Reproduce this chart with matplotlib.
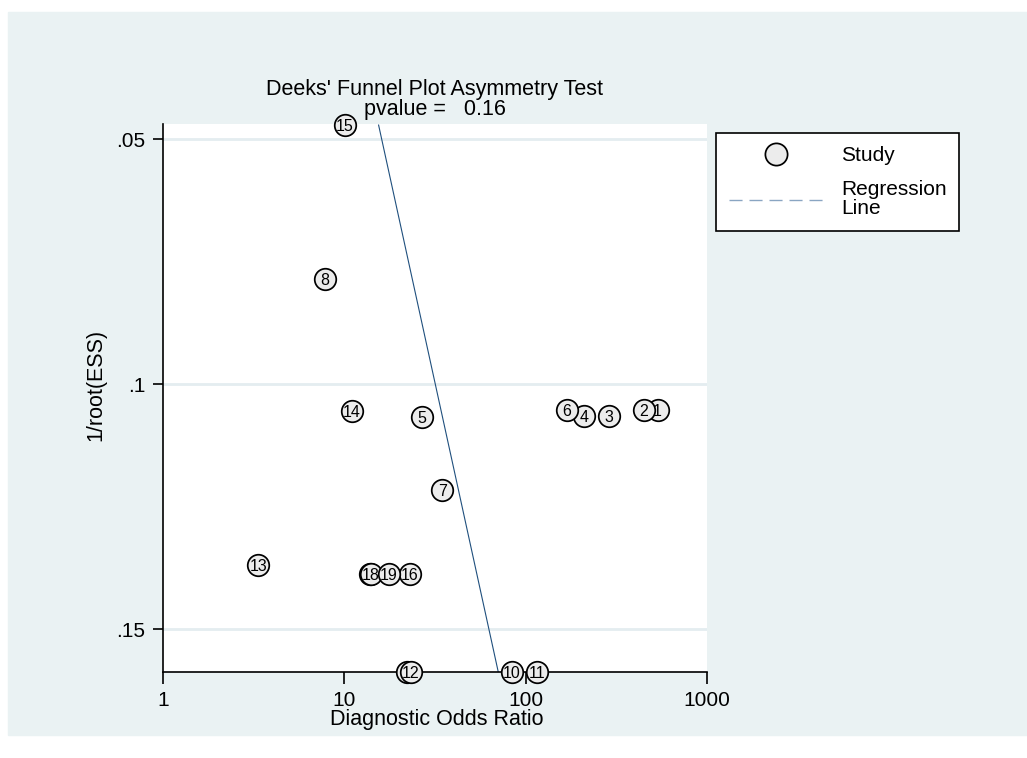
import matplotlib
matplotlib.use('Agg')
import matplotlib.pyplot as plt
import numpy as np
from matplotlib.lines import Line2D
from matplotlib.patches import Rectangle

plt.rcParams['font.family'] = ['Liberation Sans', 'DejaVu Sans']

# studies
study = ['1', '2', '3', '4', '5', '6', '7', '8', '9', '10',
         '11', '12', '13', '14', '15', '16', '17', '18', '19']
dor = [532, 448, 287, 209, 26.8, 169, 34.6, 7.84, 22.2, 83.7,
       115, 23.3, 3.36, 11.0, 10.1, 23.0, 13.9, 14.0, 17.6]
inv_root_ess = [0.1052, 0.1052, 0.1065, 0.1065, 0.1066, 0.1052, 0.1216, 0.0785, 0.1587, 0.1587,
                0.1587, 0.1587, 0.1369, 0.1054, 0.0471, 0.1388, 0.1388, 0.1388, 0.1388]

# regression ln(DOR) = a + b * 1/root(ESS)
reg_a = 2.098
reg_b = 13.60
p_value = 0.16

x_ticks = [1, 10, 100, 1000]
y_ticks = [0.05, 0.1, 0.15]
y_ticklabels = ['.05', '.1', '.15']

W, H = 1027, 758
fig = plt.figure(figsize=(W / 100, H / 100), dpi=100)
fig.patch.set_facecolor('white')
# stata-like graph region
fig.add_artist(Rectangle((8 / W, 1 - 735 / H), 1 - 8 / W, (735 - 12) / H,
                         transform=fig.transFigure, color='#EAF2F3', zorder=0))

ax = fig.add_axes([162.7 / W, 1 - 671.7 / H, (707.3 - 162.7) / W, (671.7 - 124) / H])
ax.set_facecolor('white')
ax.set_xscale('log')
ax.set_xlim(1, 1000)
ax.set_ylim(0.15865, 0.04688)

for s in ['top', 'right']:
    ax.spines[s].set_visible(False)
for s in ['left', 'bottom']:
    ax.spines[s].set_linewidth(1.2)

ax.set_xticks(x_ticks)
ax.set_xticklabels([str(v) for v in x_ticks])
ax.xaxis.set_minor_locator(matplotlib.ticker.NullLocator())
ax.set_yticks(y_ticks)
ax.set_yticklabels(y_ticklabels)
ax.tick_params(axis='x', direction='out', length=8.6, width=1.2, labelsize=15, pad=5.5)
ax.tick_params(axis='y', direction='out', length=7, width=1.2, labelsize=15, pad=5.5)
ax.yaxis.grid(True, color='#E4EDF0', lw=2)
ax.set_axisbelow(True)

# regression line over the data range
yy = np.array([min(inv_root_ess), max(inv_root_ess)])
ax.plot(np.exp(reg_a + reg_b * yy), yy, color='#1f4f7d', lw=0.8, zorder=2)

# study circles, later ones on top
for i in range(len(study)):
    ax.plot(dor[i], inv_root_ess[i], 'o', ms=15.5, mfc='#ececec', mec='black', mew=1.25,
            zorder=3 + 2 * i, clip_on=False)
    ax.text(dor[i], inv_root_ess[i], study[i], ha='center', va='center_baseline',
            fontsize=11.5, family=['Liberation Sans Narrow', 'Liberation Sans'],
            zorder=4 + 2 * i, clip_on=False)

fig.text(435 / W, 1 - 90 / H, "Deeks' Funnel Plot Asymmetry Test", ha='center', va='center', fontsize=15.5)
fig.text(435 / W, 1 - 110 / H, 'pvalue =   %.2f' % p_value, ha='center', va='center', fontsize=15.5)
fig.text(437 / W, 1 - 719 / H, 'Diagnostic Odds Ratio', ha='center', va='center', fontsize=15.5)
fig.text(96 / W, 1 - 385 / H, '1/root(ESS)', ha='center', va='center', rotation=90, fontsize=15.5)

h1 = Line2D([], [], ls='none', marker='o', ms=16, mfc='#ececec', mec='black', mew=1.25)
h2 = Line2D([], [], color='#8aa5c2', lw=1.0, dashes=(9.4, 5))
leg = ax.legend([h1, h2], ['Study', 'Regression\nLine'], loc='upper left',
                bbox_to_anchor=(716 / W, 1 - 133.3 / H), bbox_transform=fig.transFigure,
                frameon=True, fancybox=False, edgecolor='black', framealpha=1,
                fontsize=15, handlelength=4.6, handletextpad=0.8, borderpad=0.6,
                labelspacing=0.75, borderaxespad=0)
leg.get_frame().set_linewidth(1.2)
for t in leg.get_texts():
    t.set_linespacing(1.0)

fig.savefig('out.png', dpi=100)
